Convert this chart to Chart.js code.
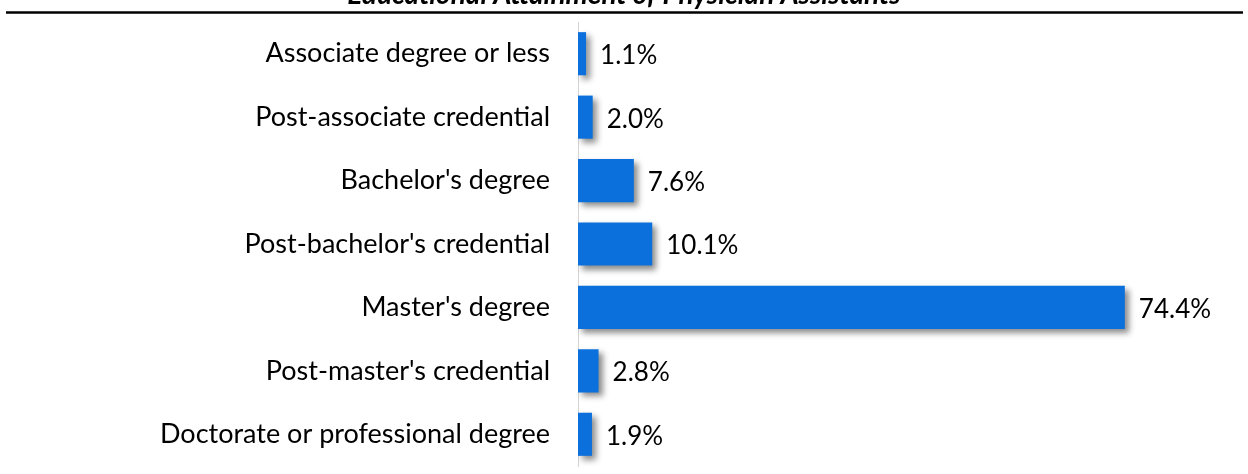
<!DOCTYPE html>
<html>
<head>
<meta charset="utf-8">
<script src="https://cdn.jsdelivr.net/npm/chart.js@4"></script>
<style>
	html, body { margin: 0; padding: 0; background: #fff; }
	canvas { display: block; }
</style>
</head>
<body>
<canvas id="chart" width="1248" height="474"></canvas>
<script>

// chart data
//
const title = 'Educational Attainment of Physician Assistants';
const categories = [
	'Associate degree or less',
	'Post-associate credential',
	"Bachelor's degree",
	"Post-bachelor's credential",
	"Master's degree",
	"Post-master's credential",
	'Doctorate or professional degree'
];
const percents = [1.1, 2.0, 7.6, 10.1, 74.4, 2.8, 1.9];

const fontFamily = 'Lato, "Open Sans", sans-serif';

// bar shadows
//
const shadowPlugin = {
	id: 'shadow',
	beforeDatasetsDraw: function(chart) {
		let ctx = chart.ctx;
		ctx.save();
		ctx.shadowColor = 'rgba(0, 0, 0, 0.45)';
		ctx.shadowBlur = 6;
		ctx.shadowOffsetX = 4;
		ctx.shadowOffsetY = 4;
	},
	afterDatasetsDraw: function(chart) {
		chart.ctx.restore();
	}
};

// value labels, title and rule
//
const labelPlugin = {
	id: 'labels',
	afterDraw: function(chart) {
		let ctx = chart.ctx;
		let meta = chart.getDatasetMeta(0);
		ctx.save();
		ctx.fillStyle = '#000';
		ctx.font = '26px ' + fontFamily;
		ctx.textAlign = 'left';
		ctx.textBaseline = 'middle';
		meta.data.forEach(function(bar, i) {
			ctx.fillText(percents[i].toFixed(1) + '%', bar.x + 14, bar.y + 2);
		});

		// title, cut off at the top
		//
		ctx.font = 'italic bold 28px ' + fontFamily;
		ctx.textAlign = 'center';
		ctx.textBaseline = 'alphabetic';
		ctx.fillText(title, 624, 4);

		// rule under the title
		//
		ctx.strokeStyle = '#000';
		ctx.lineWidth = 2.5;
		ctx.beginPath();
		ctx.moveTo(6, 12.5);
		ctx.lineTo(1243, 12.5);
		ctx.stroke();
		ctx.restore();
	}
};

new Chart(document.getElementById('chart').getContext('2d'), {
	type: 'bar',
	data: {
		labels: categories,
		datasets: [{
			data: percents,
			backgroundColor: '#0b70dc',
			borderWidth: 0,
			categoryPercentage: 1,
			barPercentage: 0.68
		}]
	},
	options: {
		indexAxis: 'y',
		responsive: false,
		animation: false,
		layout: {
			padding: { top: 22, right: 82, bottom: 8, left: 0 }
		},
		scales: {
			x: {
				min: 0,
				max: 80,
				display: false
			},
			y: {
				grid: { display: false, drawTicks: false },
				border: { display: true, color: '#d4d4d4', width: 1 },
				ticks: {
					color: '#000',
					padding: 28,
					font: { family: fontFamily, size: 27 }
				},
				afterFit: function(scale) {
					scale.width = 578;
					scale.paddingTop = 0;
					scale.paddingBottom = 0;
				}
			}
		},
		plugins: {
			legend: { display: false },
			tooltip: { enabled: false }
		}
	},
	plugins: [shadowPlugin, labelPlugin]
});
</script>
</body>
</html>
